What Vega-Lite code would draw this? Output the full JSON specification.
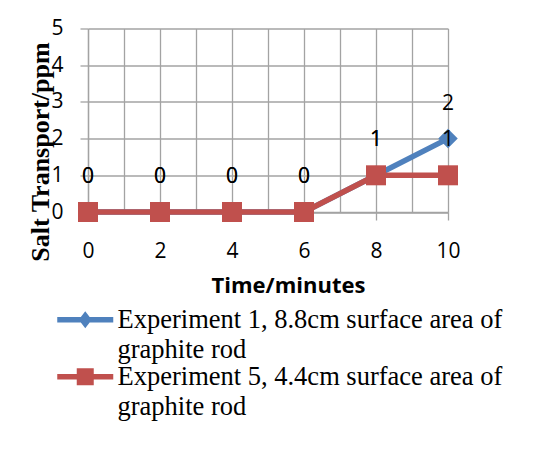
{
  "$schema": "https://vega.github.io/schema/vega-lite/v6.json",
  "width": 360,
  "height": 183.5,
  "autosize": {"type": "none"},
  "padding": {"left": 88, "top": 28.5, "right": 96, "bottom": 242},
  "background": "white",
  "config": {"view": {"stroke": null}, "font": "Open Sans"},
  "data": {
    "values": [
      {"series": "Experiment 1, 8.8cm surface area of graphite rod", "time": 0, "ppm": 0},
      {"series": "Experiment 1, 8.8cm surface area of graphite rod", "time": 2, "ppm": 0},
      {"series": "Experiment 1, 8.8cm surface area of graphite rod", "time": 4, "ppm": 0},
      {"series": "Experiment 1, 8.8cm surface area of graphite rod", "time": 6, "ppm": 0},
      {"series": "Experiment 1, 8.8cm surface area of graphite rod", "time": 8, "ppm": 1},
      {"series": "Experiment 1, 8.8cm surface area of graphite rod", "time": 10, "ppm": 2},
      {"series": "Experiment 5, 4.4cm surface area of graphite rod", "time": 0, "ppm": 0},
      {"series": "Experiment 5, 4.4cm surface area of graphite rod", "time": 2, "ppm": 0},
      {"series": "Experiment 5, 4.4cm surface area of graphite rod", "time": 4, "ppm": 0},
      {"series": "Experiment 5, 4.4cm surface area of graphite rod", "time": 6, "ppm": 0},
      {"series": "Experiment 5, 4.4cm surface area of graphite rod", "time": 8, "ppm": 1},
      {"series": "Experiment 5, 4.4cm surface area of graphite rod", "time": 10, "ppm": 1}
    ]
  },
  "encoding": {
    "x": {
      "field": "time", "type": "quantitative",
      "scale": {"domain": [0, 10], "nice": false, "zero": false},
      "axis": {
        "values": [0, 1, 2, 3, 4, 5, 6, 7, 8, 9, 10],
        "labelExpr": "datum.value % 2 == 0 ? datum.label : ''",
        "grid": true, "gridColor": "#a3a3a3", "gridWidth": 1.3,
        "domain": true, "domainColor": "#a3a3a3", "domainWidth": 1.3,
        "tickSize": 8, "tickColor": "#a3a3a3", "tickWidth": 1.3,
        "tickOpacity": {"condition": {"test": "datum.value % 2 == 1", "value": 0}, "value": 1},
        "labelFont": "Open Sans", "labelFontSize": 21, "labelColor": "black", "labelPadding": 20,
        "labelFlush": false, "labelOverlap": false,
        "title": "Time/minutes", "titleFont": "Open Sans", "titleFontSize": 22, "titleFontWeight": "bold",
        "titleColor": "black", "titleX": 200, "titleY": 80, "titleBaseline": "alphabetic", "titleAlign": "center"
      }
    },
    "y": {
      "field": "ppm", "type": "quantitative",
      "scale": {"domain": [0, 5], "nice": false},
      "axis": {
        "values": [0, 1, 2, 3, 4, 5],
        "grid": true, "gridColor": "#a3a3a3", "gridWidth": 1.3,
        "domain": true, "domainColor": "#a3a3a3", "domainWidth": 1.3,
        "tickSize": 8, "tickColor": "#a3a3a3", "tickWidth": 1.3,
        "labelFont": "Open Sans", "labelFontSize": 21, "labelColor": "black", "labelPadding": 17,
        "labelFlush": false, "labelOverlap": false,
        "title": "Salt Transport/ppm", "titleFont": "Liberation Serif", "titleFontSize": 26, "titleFontWeight": "bold",
        "titleColor": "black", "titleAngle": -90, "titleX": -40, "titleY": 123, "titleBaseline": "alphabetic", "titleAlign": "center"
      }
    },
    "color": {
      "field": "series", "type": "nominal",
      "scale": {
        "domain": ["Experiment 1, 8.8cm surface area of graphite rod", "Experiment 5, 4.4cm surface area of graphite rod"],
        "range": ["#4F81BD", "#C0504D"]
      },
      "legend": {
        "orient": "none", "legendX": -16, "legendY": 278, "title": null, "padding": 0,
        "symbolSize": 400, "labelFont": "Liberation Serif", "labelFontSize": 26.5, "labelColor": "black",
        "labelOffset": 19, "labelLimit": 600, "labelBaseline": "alphabetic", "rowPadding": -14.5,
        "labelExpr": "[substring(datum.label, 0, 35), substring(datum.label, 36)]",
        "encode": {
          "symbols": {
            "update": {
              "shape": {"signal": "indexof(datum.value, 'Experiment 1') == 0 ? 'M-2.8,-0.28 L2.8,-0.28 L2.8,0.28 L-2.8,0.28 Z M-0.65,0 L0,-0.85 L0.65,0 L0,0.85 Z' : 'M-2.8,-0.28 L2.8,-0.28 L2.8,0.28 L-2.8,0.28 Z M-0.85,-0.85 L0.85,-0.85 L0.85,0.85 L-0.85,0.85 Z'"},
              "fill": {"scale": "color", "field": "value"},
              "strokeWidth": {"value": 0},
              "opacity": {"value": 1}
            }
          },
          "labels": {
            "update": {
              "dy": {"value": 8},
              "lineHeight": {"value": 30}
            }
          }
        }
      }
    }
  },
  "layer": [
    {"mark": {"type": "line", "strokeWidth": 5.5, "clip": false}},
    {
      "transform": [{"filter": "indexof(datum.series, 'Experiment 1') == 0"}],
      "mark": {"type": "point", "filled": true, "opacity": 1, "size": 380, "shape": "diamond", "clip": false}
    },
    {
      "transform": [{"filter": "indexof(datum.series, 'Experiment 5') == 0"}],
      "mark": {"type": "point", "filled": true, "opacity": 1, "size": 400, "shape": "square", "clip": false}
    },
    {
      "mark": {"type": "text", "dy": -35, "baseline": "middle", "fontSize": 21, "font": "Open Sans", "clip": false},
      "encoding": {
        "text": {"field": "ppm", "type": "quantitative"},
        "color": {"value": "black"}
      }
    }
  ]
}
